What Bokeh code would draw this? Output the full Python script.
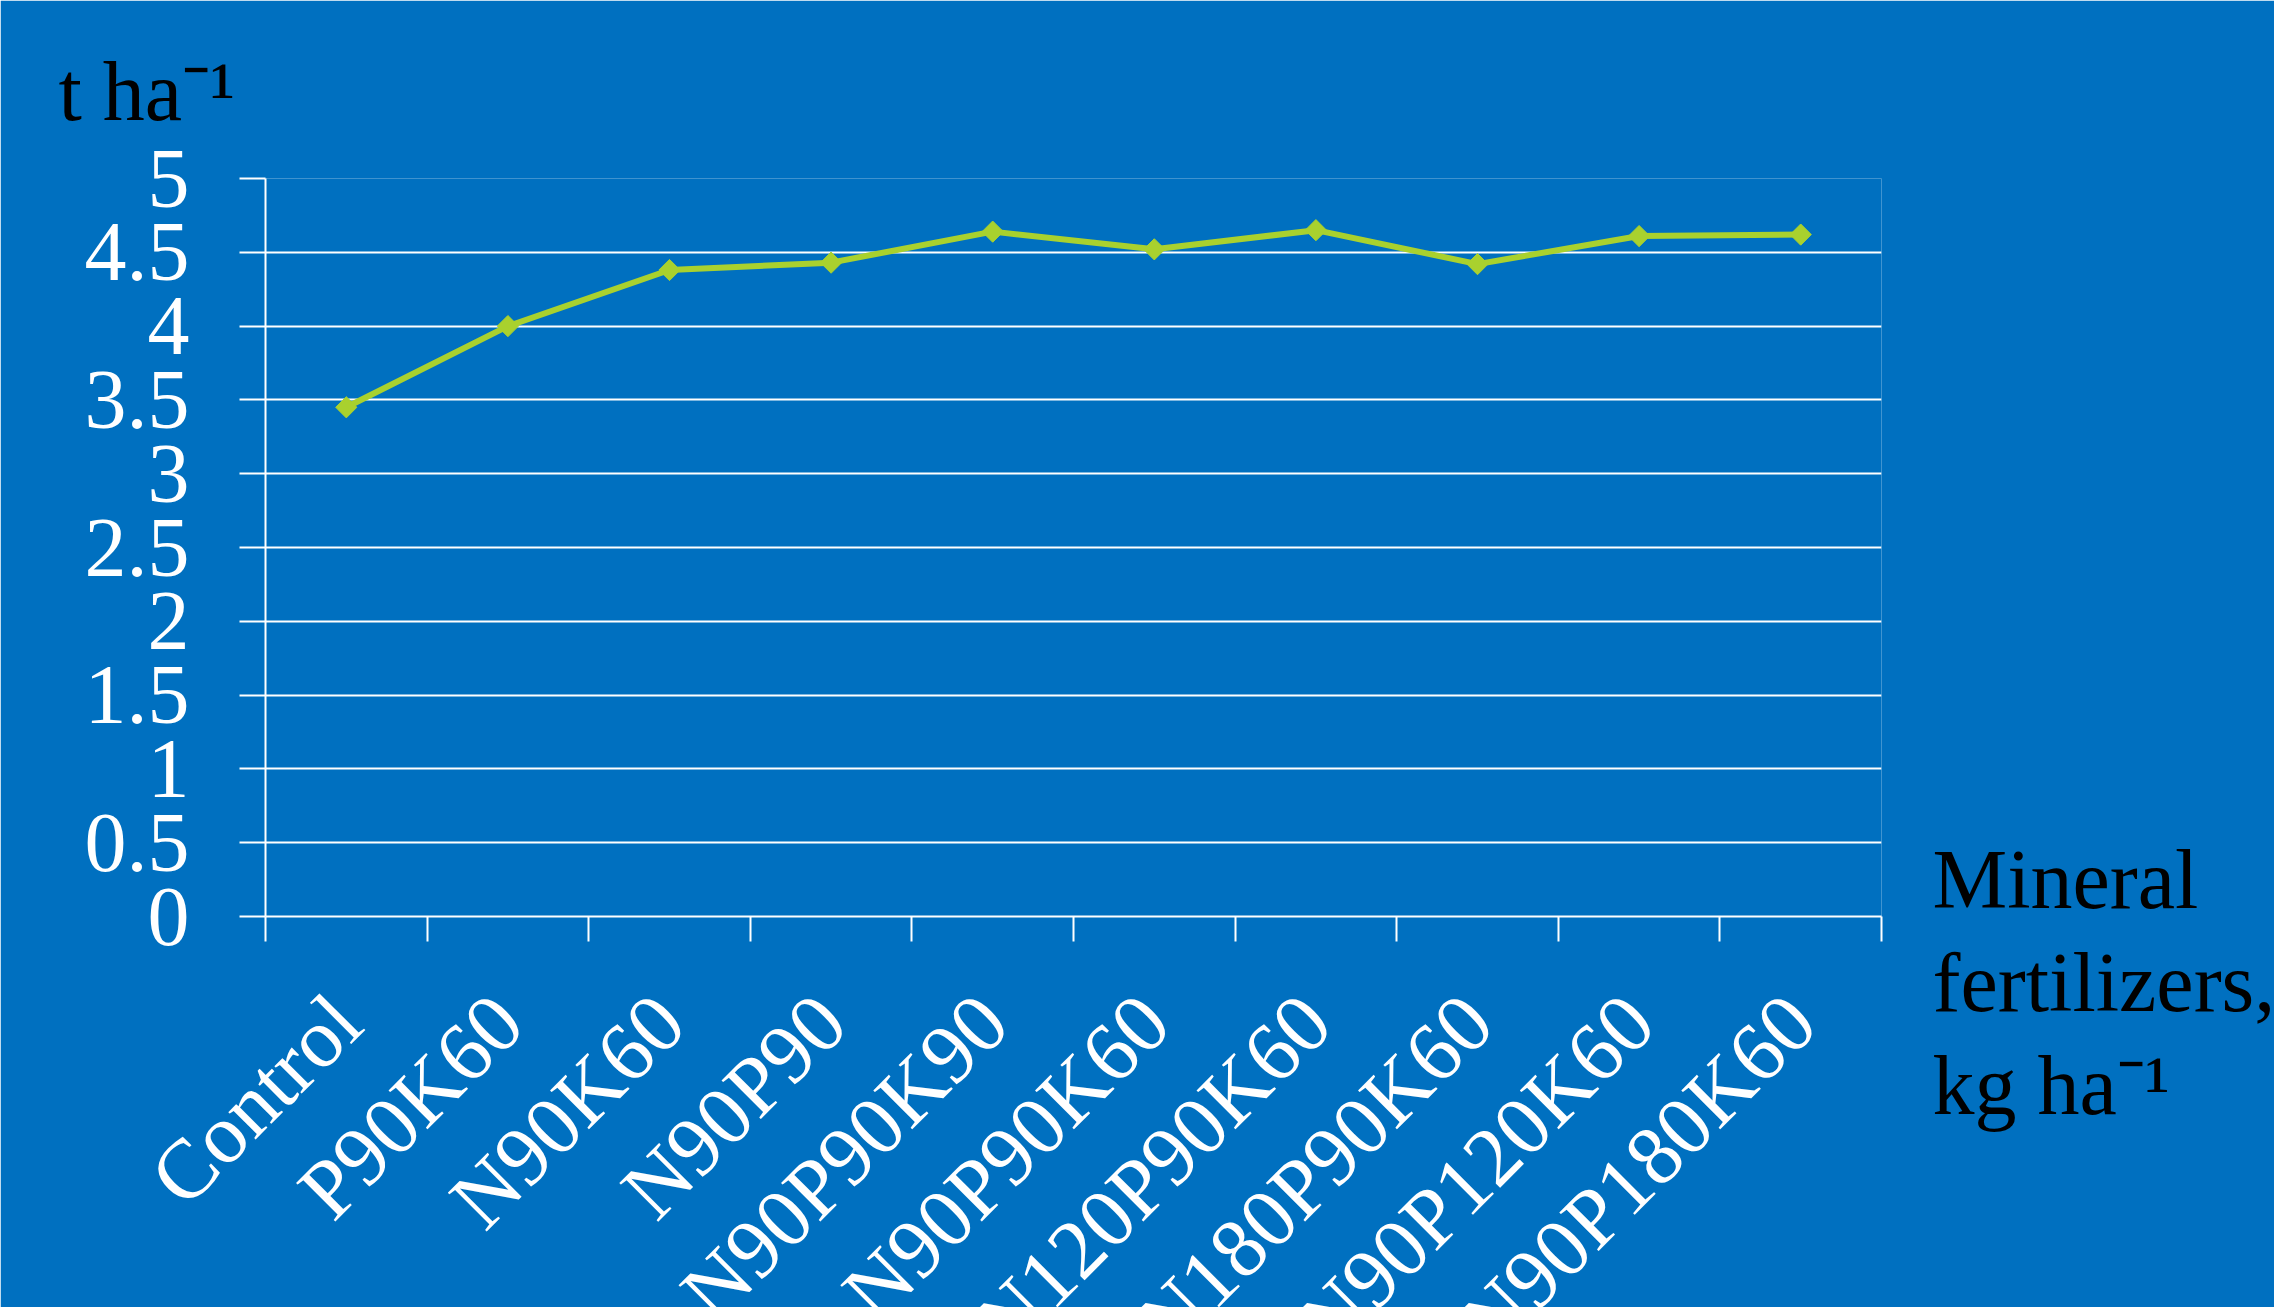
import numpy as np
from bokeh.plotting import figure
from bokeh.models import Range1d, FixedTicker, NumeralTickFormatter, Label, ColumnDataSource
from bokeh.embed import file_html
from bokeh.resources import INLINE

# ---- data ----
categories = ["Control", "P90K60", "N90K60", "N90P90", "N90P90K90",
              "N90P90K60", "N120P90K60", "N180P90K60", "N90P120K60", "N90P180K60"]
yields = [3.45, 4.00, 4.38, 4.43, 4.64, 4.52, 4.65, 4.42, 4.61, 4.62]
y_ticks = [0, 0.5, 1, 1.5, 2, 2.5, 3, 3.5, 4, 4.5, 5]
y_unit = "t ha⁻¹"
x_title = "Mineral\nfertilizers,\nkg ha⁻¹"

BG = "#0070C0"
LINE = "#A9D12E"
FONT = "Liberation Serif"
FS = "84px"

n = len(categories)
xpos = [i + 0.5 for i in range(n)]
src = ColumnDataSource(dict(x=xpos, y=yields, cat=categories))

p = figure(width=2274, height=1307, frame_width=1616, frame_height=738,
           width_policy="fixed", height_policy="fixed",
           output_backend="svg", toolbar_location=None,
           x_range=Range1d(0, n), y_range=Range1d(0, 5),
           min_border_left=265, min_border_right=393,
           min_border_top=178, min_border_bottom=391)

p.background_fill_color = BG
p.border_fill_color = BG
p.outline_line_color = None
p.title.text = ""
p.title.visible = False

# grid
p.xgrid.grid_line_color = None
p.ygrid.grid_line_color = "white"
p.ygrid.grid_line_width = 2

# y axis
p.yaxis.ticker = FixedTicker(ticks=y_ticks)
p.yaxis.formatter = NumeralTickFormatter(format="0.[0]")
p.yaxis.axis_line_color = "white"
p.yaxis.axis_line_width = 2
p.yaxis.major_tick_line_color = "white"
p.yaxis.major_tick_line_width = 2
p.yaxis.major_tick_out = 26
p.yaxis.major_tick_in = 0
p.yaxis.minor_tick_line_color = None
p.yaxis.major_label_text_color = "white"
p.yaxis.major_label_text_font = FONT
p.yaxis.major_label_text_font_size = FS
p.yaxis.major_label_standoff = 50

# x axis: labels at category centres, tick marks at category boundaries
p.xaxis.ticker = FixedTicker(ticks=xpos, minor_ticks=list(range(n + 1)))
p.xaxis.major_label_overrides = {x: c for x, c in zip(xpos, categories)}
p.xaxis.major_label_orientation = np.pi / 4
p.xaxis.axis_line_color = "white"
p.xaxis.axis_line_width = 2
p.xaxis.major_tick_line_color = None
p.xaxis.major_tick_out = 0
p.xaxis.major_tick_in = 0
p.xaxis.minor_tick_line_color = "white"
p.xaxis.minor_tick_line_width = 2
p.xaxis.minor_tick_out = 25
p.xaxis.minor_tick_in = 0
p.xaxis.major_label_text_color = "white"
p.xaxis.major_label_text_font = FONT
p.xaxis.major_label_text_font_size = FS
p.xaxis.major_label_standoff = 67

# series
p.line("x", "y", source=src, line_color=LINE, line_width=6, line_join="round")
p.scatter("x", "y", source=src, marker="square", angle=np.pi / 4, size=15,
          fill_color=LINE, line_color=LINE)

# unit label (top-left, above the plot area)
p.add_layout(Label(x=-207, y=87, x_units="screen", y_units="screen", text=y_unit,
                   text_color="black", text_font=FONT, text_font_size=FS,
                   text_baseline="alphabetic", text_align="left"), "above")

# x title (right of the plot area)
p.add_layout(Label(x=51, y=-66, x_units="screen", y_units="screen", text=x_title,
                   text_color="black", text_font=FONT, text_font_size=FS,
                   text_line_height=1.11, text_baseline="middle",
                   text_align="left"), "right")

open("out.html", "w").write(file_html(p, INLINE))
